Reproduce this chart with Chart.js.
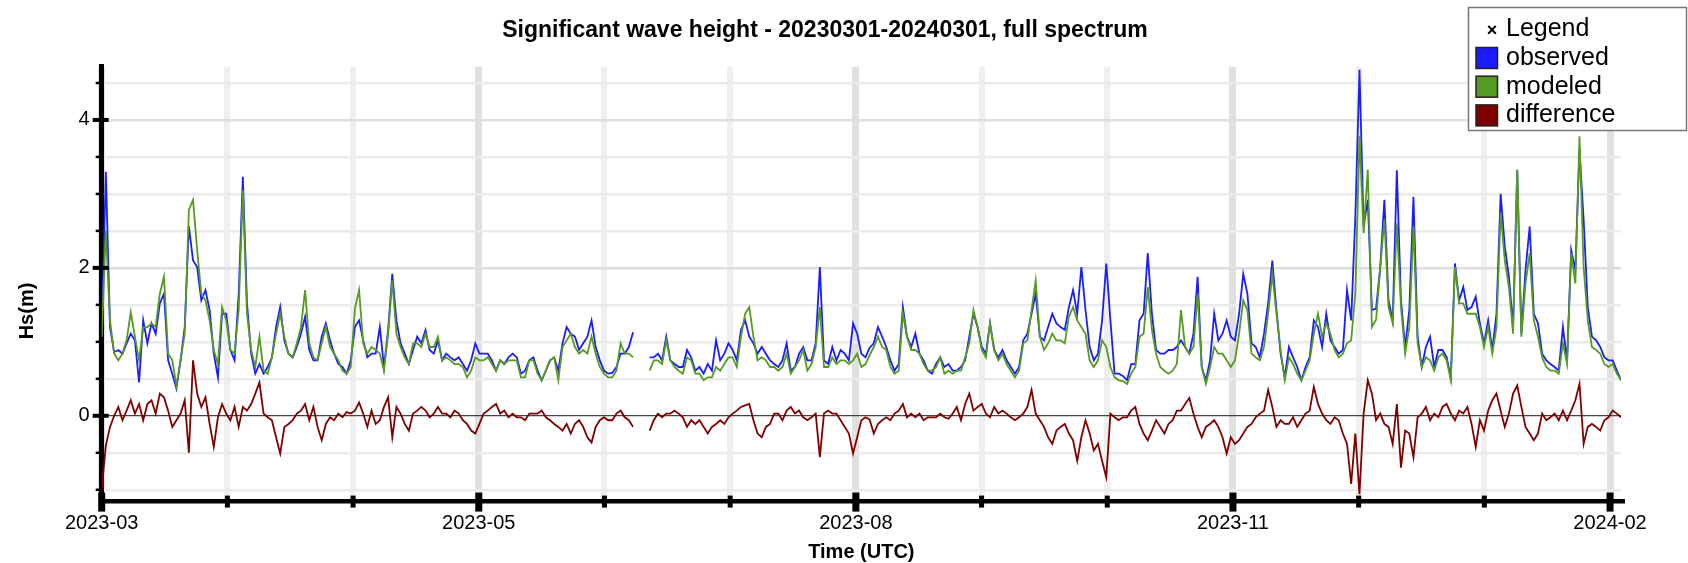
<!DOCTYPE html>
<html>
<head>
<meta charset="utf-8">
<script src="https://cdn.jsdelivr.net/npm/chart.js@4.4.1/dist/chart.umd.min.js"></script>
<style>
  html, body { margin: 0; padding: 0; background: #fff; }
</style>
</head>
<body>
<canvas id="waveChart" width="1688" height="563"></canvas>
<script>
// one sample per day, index 0 = 2023-03-01 (gap early July)
const observed = [
  1.07, 3.3, 1.2, 0.86, 0.89, 0.84, 0.98, 1.11, 1.02, 0.45,
  1.29, 0.98, 1.25, 1.11, 1.52, 1.65, 0.75, 0.57, 0.37, 0.75,
  1.2, 2.56, 2.1, 2.01, 1.56, 1.7, 1.43, 0.84, 0.52, 1.38,
  1.38, 0.89, 0.75, 1.65, 3.23, 1.52, 0.84, 0.57, 0.7, 0.57,
  0.66, 0.79, 1.2, 1.47, 1.02, 0.84, 0.79, 0.93, 1.11, 1.34,
  0.89, 0.75, 0.75, 1.07, 1.25, 1.02, 0.84, 0.7, 0.66, 0.57,
  0.75, 1.2, 1.29, 1.02, 0.79, 0.84, 0.84, 1.2, 0.66, 1.16,
  1.92, 1.29, 0.98, 0.84, 0.7, 0.89, 1.07, 0.98, 1.16, 0.89,
  0.84, 1.02, 0.75, 0.84, 0.79, 0.75, 0.79, 0.7, 0.61, 0.75,
  0.98, 0.84, 0.84, 0.84, 0.75, 0.61, 0.75, 0.7, 0.79, 0.84,
  0.79, 0.57, 0.61, 0.75, 0.79, 0.61, 0.48, 0.61, 0.75, 0.79,
  0.61, 0.98, 1.2, 1.11, 1.07, 0.89, 0.98, 1.07, 1.29, 0.93,
  0.75, 0.61, 0.57, 0.58, 0.66, 0.84, 0.84, 0.93, 1.13, null,
  null, null, 0.79, 0.79, 0.84, 0.75, 1.07, 0.75, 0.7, 0.66,
  0.66, 0.89, 0.79, 0.61, 0.66, 0.57, 0.7, 0.61, 1.02, 0.75,
  0.84, 0.98, 0.89, 0.75, 1.16, 1.29, 1.07, 0.98, 0.84, 0.93,
  0.84, 0.75, 0.7, 0.66, 0.75, 0.98, 0.61, 0.66, 0.84, 0.93,
  0.75, 0.75, 0.98, 2.01, 0.75, 0.7, 0.93, 0.75, 0.89, 0.84,
  0.75, 1.25, 1.11, 0.84, 0.79, 0.92, 0.98, 1.2, 1.07, 0.93,
  0.75, 0.61, 0.7, 1.47, 1.07, 0.93, 1.11, 0.84, 0.75, 0.61,
  0.57, 0.7, 0.79, 0.66, 0.7, 0.61, 0.61, 0.66, 0.75, 1.07,
  1.38, 1.2, 0.93, 0.84, 1.25, 0.89, 0.79, 0.89, 0.75, 0.66,
  0.57, 0.66, 1.02, 1.11, 1.38, 1.65, 1.07, 1.02, 1.2, 1.38,
  1.25, 1.2, 1.16, 1.47, 1.7, 1.38, 2.01, 1.43, 0.93, 0.75,
  0.84, 1.29, 2.06, 1.29, 0.57, 0.57, 0.54, 0.48, 0.7, 0.7,
  1.29, 1.38, 2.2, 1.38, 0.89, 0.84, 0.84, 0.89, 0.89, 0.93,
  1.02, 0.93, 0.84, 1.11, 1.88, 0.66, 0.48, 0.75, 1.38, 1.02,
  1.11, 1.29, 1.07, 1.02, 1.38, 1.92, 1.65, 0.98, 0.93, 0.79,
  1.11, 1.52, 2.1, 1.43, 0.84, 0.52, 0.93, 0.79, 0.66, 0.48,
  0.66, 0.79, 1.29, 1.2, 0.93, 1.38, 1.02, 0.93, 0.84, 0.89,
  1.7, 1.29, 2.69, 4.68, 2.56, 2.92, 1.43, 1.45, 2.01, 2.92,
  1.56, 1.29, 3.32, 1.56, 0.93, 1.43, 2.96, 1.07, 0.66, 0.93,
  1.07, 0.66, 0.89, 0.89, 0.79, 0.52, 2.06, 1.56, 1.74, 1.43,
  1.47, 1.61, 1.25, 0.98, 1.29, 0.89, 1.38, 3.0, 2.29, 1.88,
  1.2, 3.32, 1.11, 1.97, 2.56, 1.38, 1.25, 0.84, 0.75, 0.7,
  0.66, 0.61, 1.2, 0.75, 2.24, 1.97, 3.6, 2.65, 1.47, 1.07,
  1.02, 0.93, 0.79, 0.75, 0.75, 0.61, 0.48
];

const modeled = [
  1.07, 2.5, 1.29, 0.84, 0.75, 0.84, 1.02, 1.4, 1.07, 0.75,
  1.2, 1.2, 1.25, 1.2, 1.65, 1.88, 0.84, 0.75, 0.41, 0.75,
  1.11, 2.78, 2.92, 2.24, 1.65, 1.56, 1.29, 0.89, 0.7, 1.47,
  1.29, 0.89, 0.84, 1.43, 3.05, 1.38, 0.89, 0.66, 1.07, 0.61,
  0.57, 0.79, 1.11, 1.38, 1.07, 0.84, 0.79, 0.98, 1.2, 1.7,
  0.98, 0.79, 0.75, 0.98, 1.2, 0.93, 0.84, 0.75, 0.61, 0.57,
  0.66, 1.45, 1.7, 0.98, 0.84, 0.93, 0.89, 0.84, 0.61, 1.11,
  1.83, 1.11, 0.93, 0.79, 0.7, 0.98, 0.98, 0.93, 1.11, 0.93,
  0.93, 1.07, 0.75, 0.79, 0.75, 0.7, 0.7, 0.66, 0.52, 0.61,
  0.79, 0.75, 0.75, 0.79, 0.7, 0.61, 0.75, 0.7, 0.75, 0.75,
  0.75, 0.52, 0.52, 0.75, 0.75, 0.57, 0.48, 0.61, 0.75, 0.79,
  0.48, 0.93, 1.02, 1.11, 0.93, 0.84, 0.89, 0.84, 1.07, 0.84,
  0.66, 0.57, 0.52, 0.52, 0.61, 0.98, 0.84, 0.84, 0.79, null,
  null, null, 0.61, 0.75, 0.75, 0.7, 1.02, 0.75, 0.66, 0.61,
  0.57, 0.79, 0.75, 0.57, 0.57, 0.48, 0.52, 0.52, 0.66, 0.61,
  0.7, 0.79, 0.79, 0.66, 1.07, 1.38, 1.47, 1.07, 0.75, 0.79,
  0.75, 0.66, 0.66, 0.61, 0.66, 0.84, 0.57, 0.66, 0.75, 0.89,
  0.61, 0.7, 0.93, 1.47, 0.66, 0.66, 0.79, 0.7, 0.75, 0.75,
  0.7, 0.75, 0.84, 0.66, 0.7, 0.82, 0.93, 1.07, 0.93, 0.89,
  0.66, 0.57, 0.61, 1.38, 1.07, 0.89, 0.89, 0.84, 0.7, 0.61,
  0.61, 0.66, 0.79, 0.57, 0.61, 0.57, 0.61, 0.61, 0.79, 0.98,
  1.43, 1.2, 0.89, 0.79, 1.25, 0.89, 0.75, 0.84, 0.7, 0.61,
  0.52, 0.61, 0.98, 1.02, 1.43, 1.83, 1.07, 0.89, 0.98, 1.11,
  1.02, 1.02, 0.98, 1.34, 1.47, 1.29, 1.2, 1.11, 0.75, 0.66,
  0.75, 1.02, 0.93, 0.66, 0.52, 0.48, 0.47, 0.43, 0.57, 0.66,
  1.07, 1.11, 1.74, 1.16, 0.84, 0.66, 0.61, 0.57, 0.61, 0.7,
  1.43, 0.93, 0.84, 0.93, 1.65, 0.66, 0.43, 0.66, 0.93, 0.84,
  0.84, 0.75, 0.66, 0.75, 1.11, 1.56, 1.43, 0.84, 0.79, 0.75,
  0.93, 1.38, 1.92, 1.38, 0.89, 0.48, 0.79, 0.7, 0.57, 0.48,
  0.61, 0.75, 1.11, 1.38, 1.07, 1.25, 1.11, 0.89, 0.79, 0.84,
  0.98, 1.02, 1.65, 3.78, 2.47, 3.33, 1.2, 1.3, 2.01, 2.65,
  1.47, 1.25, 2.6, 1.47, 0.84, 1.2, 2.56, 0.98, 0.66, 0.79,
  0.75, 0.61, 0.79, 0.84, 0.75, 0.48, 2.01, 1.52, 1.52, 1.38,
  1.38, 1.38, 1.2, 0.93, 1.2, 0.84, 1.2, 2.74, 2.1, 1.74,
  1.11, 3.33, 1.07, 1.79, 2.2, 1.29, 1.07, 0.79, 0.66, 0.61,
  0.61, 0.57, 0.98, 0.7, 2.2, 1.79, 3.78, 2.01, 1.29, 0.93,
  0.89, 0.84, 0.7, 0.66, 0.7, 0.57, 0.48
];

const difference = [
  -1.0, -0.4, -0.15, 0.0, 0.12, -0.06, 0.07, 0.21, 0.03, 0.16,
  -0.06, 0.16, 0.21, 0.03, 0.3, 0.25, 0.07, -0.15, -0.06, 0.03,
  0.21, -0.5, 0.75, 0.3, 0.12, 0.25, -0.11, -0.42, -0.02, 0.16,
  0.03, -0.06, 0.12, -0.15, 0.12, 0.07, 0.16, 0.3, 0.45, 0.03,
  -0.02, -0.06, -0.29, -0.51, -0.15, -0.11, -0.06, 0.03, 0.07, 0.16,
  -0.06, 0.12, -0.15, -0.33, -0.11, -0.02, -0.06, 0.03, -0.02, 0.05,
  0.03, 0.07, 0.18, 0.03, -0.15, 0.07, -0.11, -0.06, 0.12, 0.25,
  -0.29, 0.12, 0.03, -0.11, -0.2, 0.03, 0.07, 0.12, 0.07, -0.02,
  0.03, 0.12, 0.03, 0.03, -0.02, 0.07, 0.03, -0.06, -0.11, -0.2,
  -0.24, -0.11, 0.03, 0.07, 0.12, 0.16, 0.03, 0.07, -0.02, 0.03,
  -0.02, -0.02, -0.06, 0.03, 0.03, 0.03, 0.07, -0.02, -0.06, -0.11,
  -0.15, -0.2, -0.11, -0.24, -0.11, -0.06, -0.15, -0.29, -0.36, -0.15,
  -0.06, -0.02, -0.06, -0.06, 0.03, 0.07, -0.02, -0.06, -0.15, null,
  null, null, -0.2, -0.06, 0.03, -0.02, 0.03, 0.03, 0.07, 0.03,
  -0.02, -0.15, -0.06, -0.11, -0.06, -0.15, -0.24, -0.15, -0.11, -0.06,
  -0.11, -0.02, 0.03, 0.07, 0.12, 0.14, 0.16, -0.06, -0.24, -0.29,
  -0.15, -0.11, 0.03, 0.03, -0.06, 0.07, 0.12, 0.03, 0.07, -0.02,
  -0.06, -0.02, 0.03, -0.56, 0.03, 0.07, 0.03, 0.03, -0.06, -0.15,
  -0.24, -0.51, -0.29, -0.06, -0.02, -0.05, -0.24, -0.11, -0.06, -0.02,
  -0.06, 0.03, 0.07, 0.16, -0.02, 0.03, -0.02, 0.03, -0.06, -0.02,
  -0.02, -0.02, 0.03, -0.02, -0.04, 0.03, 0.12, -0.06, 0.16, 0.3,
  0.07, 0.12, 0.16, 0.03, -0.02, 0.12, 0.03, 0.07, 0.03, -0.02,
  -0.06, -0.02, 0.03, 0.12, 0.35, 0.03, -0.06, -0.15, -0.29, -0.38,
  -0.2, -0.15, -0.11, -0.24, -0.33, -0.61, -0.29, -0.06, -0.24, -0.47,
  -0.38, -0.61, -0.83, 0.03, -0.02, -0.06, -0.02, -0.02, 0.07, 0.12,
  -0.11, -0.24, -0.33, -0.2, -0.06, -0.15, -0.24, -0.11, -0.06, 0.07,
  0.07, 0.16, 0.24, 0.03, -0.15, -0.29, -0.15, -0.11, -0.06, -0.15,
  -0.29, -0.51, -0.29, -0.38, -0.33, -0.24, -0.15, -0.11, -0.02, 0.03,
  0.07, 0.35, 0.12, -0.15, -0.06, -0.11, -0.11, -0.02, -0.15, -0.06,
  0.03, 0.07, 0.39, 0.16, 0.03, -0.06, -0.11, -0.02, -0.06, -0.24,
  -0.38, -0.92, -0.24, -1.06, 0.03, 0.48, 0.3, -0.06, 0.03, -0.11,
  -0.15, -0.38, 0.16, -0.7, -0.2, -0.24, -0.56, -0.02, 0.03, 0.12,
  -0.06, 0.03, -0.02, 0.12, 0.16, 0.03, -0.06, 0.07, 0.03, 0.12,
  -0.11, -0.42, -0.06, -0.2, 0.07, 0.21, 0.3, 0.07, -0.15, 0.03,
  0.3, 0.41, 0.12, -0.15, -0.24, -0.33, -0.24, 0.03, -0.06, -0.02,
  0.03, -0.06, 0.07, -0.06, 0.07, 0.21, 0.43, -0.38, -0.15, -0.11,
  -0.15, -0.2, -0.06, -0.02, 0.07, 0.03, -0.02
];

const xTickLabels = ['2023-03', '2023-05', '2023-08', '2023-11', '2024-02'];
const xTickStep = 30.28;      // days between ticks, every third one labelled
const yTickValues = [-1, -0.5, 0, 0.5, 1, 1.5, 2, 2.5, 3, 3.5, 4, 4.5];
const yLabelValues = [0, 2, 4];

const seriesNames = ['observed', 'modeled', 'difference'];
const seriesColors = ['#1c1cff', '#559a22', '#7f0000'];
const seriesData = [observed, modeled, difference];

const FONT = "'Liberation Sans', Arial, Helvetica, sans-serif";

function toPoints(arr) {
  return arr.map((v, i) => ({ x: i, y: v }));
}

// titles, tick marks and the boxed legend
const decor = {
  id: 'decor',
  afterDraw(chart) {
    const ctx = chart.ctx;
    const xs = chart.scales.x;
    const ys = chart.scales.y;
    const area = chart.chartArea;
    ctx.save();

    ctx.fillStyle = '#000';
    xs.ticks.forEach((t, i) => {
      const px = xs.getPixelForValue(t.value);
      if (i % 3 === 0) ctx.fillRect(px - 3.5, area.bottom - 9, 7, 19);
      else ctx.fillRect(px - 2.5, area.bottom - 6, 5, 12);
    });
    ys.ticks.forEach(t => {
      const py = ys.getPixelForValue(t.value);
      if (yLabelValues.includes(t.value)) ctx.fillRect(area.left - 9, py - 2, 16, 4);
      else ctx.fillRect(area.left - 6, py - 1.25, 6, 2.5);
    });

    ctx.textAlign = 'center';
    ctx.textBaseline = 'alphabetic';
    ctx.font = 'bold 23px ' + FONT;
    ctx.fillText('Significant wave height - 20230301-20240301, full spectrum', 825, 37);

    ctx.font = 'bold 20px ' + FONT;
    ctx.fillText('Time (UTC)', (area.left + area.right) / 2, 558);
    ctx.save();
    ctx.translate(33, 311);
    ctx.rotate(-Math.PI / 2);
    ctx.fillText('Hs(m)', 0, 0);
    ctx.restore();

    // legend
    ctx.fillStyle = '#fff';
    ctx.fillRect(1468.5, 7.5, 218, 123);
    ctx.strokeStyle = '#777';
    ctx.lineWidth = 1.5;
    ctx.strokeRect(1468.5, 7.5, 218, 123);
    ctx.fillStyle = '#000';
    ctx.font = 'bold 18px ' + FONT;
    ctx.fillText('\u00d7', 1492, 36);
    ctx.textAlign = 'left';
    ctx.font = '25px ' + FONT;
    ctx.fillText('Legend', 1506, 36);
    seriesNames.forEach((name, i) => {
      const top = 47.5 + i * 28.7;
      ctx.fillStyle = seriesColors[i];
      ctx.fillRect(1476, top, 21.5, 21);
      ctx.strokeStyle = '#222';
      ctx.strokeRect(1476, top, 21.5, 21);
      ctx.fillStyle = '#000';
      ctx.fillText(name, 1506, 65 + i * 28.7);
    });
    ctx.restore();
  }
};

new Chart(document.getElementById('waveChart'), {
  type: 'line',
  data: {
    datasets: seriesNames.map((name, i) => ({
      label: name,
      data: toPoints(seriesData[i]),
      borderColor: seriesColors[i],
      borderWidth: 1.8,
      pointRadius: 0,
      tension: 0,
      spanGaps: false,
      order: seriesNames.length - i   // observed underneath, difference on top
    }))
  },
  options: {
    responsive: false,
    animation: false,
    devicePixelRatio: 1,
    layout: { padding: { top: 66.7, right: 67, left: 0, bottom: 0 } },
    plugins: {
      legend: { display: false },
      tooltip: { enabled: false },
      title: { display: false }
    },
    scales: {
      x: {
        type: 'linear',
        min: 0,
        max: observed.length - 1,
        bounds: 'data',
        afterBuildTicks: scale => {
          const n = (xTickLabels.length - 1) * 3 + 1;
          scale.ticks = Array.from({ length: n }, (_, k) => ({ value: k * xTickStep }));
        },
        afterFit: scale => { scale.height = 61.4; },
        ticks: {
          autoSkip: false,
          maxRotation: 0,
          padding: 10,
          color: '#000',
          font: { family: FONT, size: 20 },
          callback: (value, index) => (index % 3 === 0 ? xTickLabels[index / 3] : '')
        },
        grid: {
          drawTicks: false,
          color: c => (c.index % 3 === 0 ? '#e0e0e0' : '#efefef'),
          lineWidth: c => (c.index % 3 === 0 ? 7 : 6)
        },
        border: { display: true, color: '#000', width: 4.5 }
      },
      y: {
        type: 'linear',
        min: -1.16,
        max: 4.72,
        bounds: 'data',
        afterBuildTicks: scale => {
          scale.ticks = yTickValues.map(v => ({ value: v }));
        },
        afterFit: scale => { scale.width = 101.7; },
        ticks: {
          autoSkip: false,
          padding: 12,
          color: '#000',
          font: { family: FONT, size: 20 },
          callback: v => (yLabelValues.includes(v) ? String(v) : '')
        },
        grid: {
          drawTicks: false,
          color: c => {
            const v = c.tick ? c.tick.value : null;
            if (v === 0) return '#444';
            return yLabelValues.includes(v) ? '#dedede' : '#ebebeb';
          },
          lineWidth: c => (c.tick && c.tick.value === 0 ? 1.2 : 2.5)
        },
        border: { display: true, color: '#000', width: 5 }
      }
    }
  },
  plugins: [decor]
});
</script>
</body>
</html>
